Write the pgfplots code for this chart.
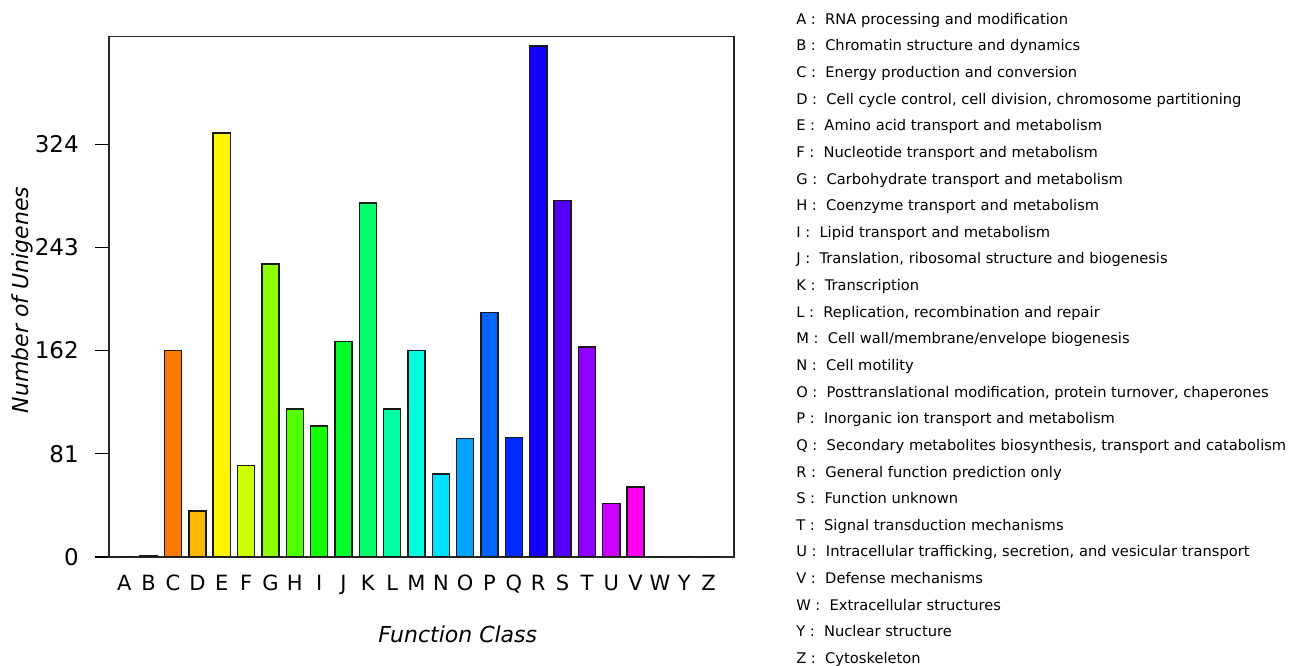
\documentclass[border=0pt]{standalone}
\usepackage{fontspec}
\setmainfont{DejaVu Sans}
\usepackage{pgfplots}
\pgfplotsset{compat=1.18}
\definecolor{cA}{HTML}{FF0000}
\definecolor{cB}{HTML}{FF3D00}
\definecolor{cC}{HTML}{FF7A00}
\definecolor{cD}{HTML}{FFB800}
\definecolor{cE}{HTML}{FFF500}
\definecolor{cF}{HTML}{CCFF00}
\definecolor{cG}{HTML}{8FFF00}
\definecolor{cH}{HTML}{52FF00}
\definecolor{cI}{HTML}{14FF00}
\definecolor{cJ}{HTML}{00FF29}
\definecolor{cK}{HTML}{00FF66}
\definecolor{cL}{HTML}{00FFA3}
\definecolor{cM}{HTML}{00FFE0}
\definecolor{cN}{HTML}{00E0FF}
\definecolor{cO}{HTML}{00A3FF}
\definecolor{cP}{HTML}{0066FF}
\definecolor{cQ}{HTML}{0029FF}
\definecolor{cR}{HTML}{1400FF}
\definecolor{cS}{HTML}{5200FF}
\definecolor{cT}{HTML}{8F00FF}
\definecolor{cU}{HTML}{CC00FF}
\definecolor{cV}{HTML}{FF00F5}
\definecolor{cW}{HTML}{FF00B8}
\definecolor{cY}{HTML}{FF007A}
\definecolor{cZ}{HTML}{FF003D}
\begin{document}
\begin{tikzpicture}
\path (0,0) rectangle (968.25pt,499.5pt);
\begin{axis}[
  at={(81.75pt,81.75pt)}, anchor=south west,
  scale only axis, width=468.75pt, height=390.375pt,
  xmin=-0.63, xmax=25.04, ymin=0, ymax=408.6,
  ybar, bar width=12.8pt, bar shift=0pt,
  xtick={0,...,24},
  xticklabels={A,B,C,D,E,F,G,H,I,J,K,L,M,N,O,P,Q,R,S,T,U,V,W,Y,Z},
  ytick={0,81,162,243,324},
  tick align=outside, ytick pos=left, xtick pos=bottom,
  major tick length=10.5pt,
  xtick style={draw=none},
  ytick style={line width=1pt, black},
  axis line style={line width=1.1pt, black!85},
  /pgf/number format/assume math mode=true,
  yticklabel style={font=\fontsize{17.25}{20}\selectfont, anchor=east, inner sep=0pt, xshift=-12pt},
  xticklabel style={font=\fontsize{15.75}{18}\selectfont, anchor=base, inner sep=0pt, yshift=-14.8pt},
  xlabel={Function Class},
  ylabel={Number of Unigenes},
  xlabel style={at={(axis description cs:0.558,-0.1485)}, anchor=center, inner sep=0pt, font=\itshape\fontsize{16.5}{20}\selectfont},
  ylabel style={at={(axis description cs:-0.138,0.4937)}, anchor=center, inner sep=0pt, font=\itshape\fontsize{16.5}{20}\selectfont},
  every axis plot/.append style={draw=black!90, line width=1.1pt},
]
\addplot[fill=cA] coordinates {(0,0)};
\addplot[fill=cB] coordinates {(1,1)};
\addplot[fill=cC] coordinates {(2,162)};
\addplot[fill=cD] coordinates {(3,36)};
\addplot[fill=cE] coordinates {(4,333)};
\addplot[fill=cF] coordinates {(5,72)};
\addplot[fill=cG] coordinates {(6,230)};
\addplot[fill=cH] coordinates {(7,116)};
\addplot[fill=cI] coordinates {(8,103)};
\addplot[fill=cJ] coordinates {(9,169)};
\addplot[fill=cK] coordinates {(10,278)};
\addplot[fill=cL] coordinates {(11,116)};
\addplot[fill=cM] coordinates {(12,162)};
\addplot[fill=cN] coordinates {(13,65)};
\addplot[fill=cO] coordinates {(14,93)};
\addplot[fill=cP] coordinates {(15,192)};
\addplot[fill=cQ] coordinates {(16,94)};
\addplot[fill=cR] coordinates {(17,401)};
\addplot[fill=cS] coordinates {(18,280)};
\addplot[fill=cT] coordinates {(19,165)};
\addplot[fill=cU] coordinates {(20,42)};
\addplot[fill=cV] coordinates {(21,55)};
\addplot[fill=cW] coordinates {(22,0)};
\addplot[fill=cY] coordinates {(23,0)};
\addplot[fill=cZ] coordinates {(24,0)};
\end{axis}
\foreach \t [count=\i from 0] in {
 {A :~~RNA processing and modification},
 {B :~~Chromatin structure and dynamics},
 {C :~~Energy production and conversion},
 {D :~~Cell cycle control, cell division, chromosome partitioning},
 {E :~~Amino acid transport and metabolism},
 {F :~~Nucleotide transport and metabolism},
 {G :~~Carbohydrate transport and metabolism},
 {H :~~Coenzyme transport and metabolism},
 {I :~~Lipid transport and metabolism},
 {J :~~Translation, ribosomal structure and biogenesis},
 {K :~~Transcription},
 {L :~~Replication, recombination and repair},
 {M :~~Cell wall/membrane/envelope biogenesis},
 {N :~~Cell motility},
 {O :~~Posttranslational modification, protein turnover, chaperones},
 {P :~~Inorganic ion transport and metabolism},
 {Q :~~Secondary metabolites biosynthesis, transport and catabolism},
 {R :~~General function prediction only},
 {S :~~Function unknown},
 {T :~~Signal transduction mechanisms},
 {U :~~Intracellular trafficking, secretion, and vesicular transport},
 {V :~~Defense mechanisms},
 {W :~~Extracellular structures},
 {Y :~~Nuclear structure},
 {Z :~~Cytoskeleton}}
{
  \node[anchor=base west, inner sep=0pt, font=\fontsize{11}{13}\selectfont] at (597pt,{(481.275-19.9725*\i)*1pt}) {\t};
}
\pgfresetboundingbox
\useasboundingbox (0,0) rectangle (968.25pt,499.5pt);
\end{tikzpicture}
\end{document}
